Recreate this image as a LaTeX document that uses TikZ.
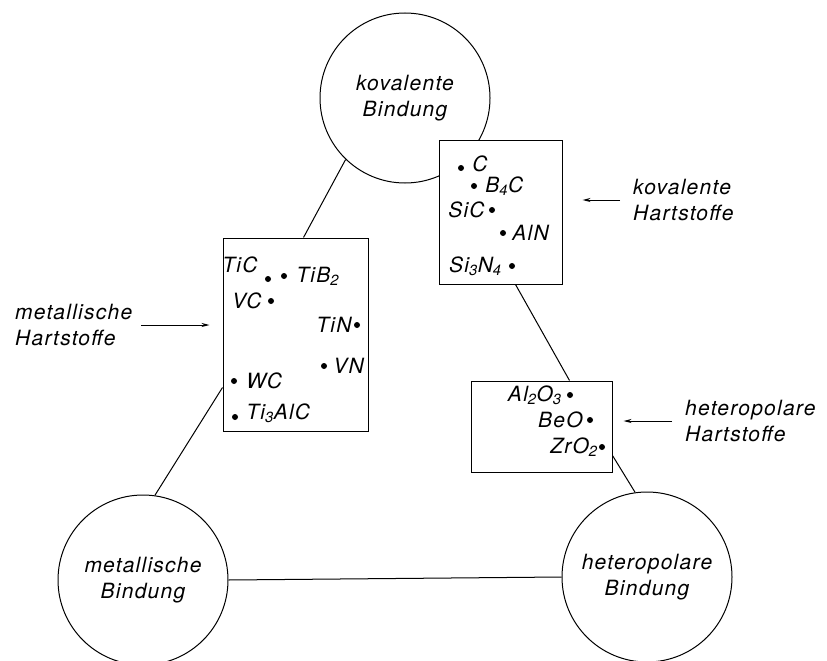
\documentclass[tikz,border=0pt]{standalone}
\usepackage{fontspec}
\setmainfont{TeX Gyre Heros}[LetterSpace=6]
\usetikzlibrary{arrows.meta,positioning}
\newcommand\labfont{\fontsize{21}{26}\selectfont\itshape}
\tikzset{
  >={Stealth[length=8pt,width=4pt]},
  bond/.style={
    draw, circle, line width=1pt, inner sep=0pt, minimum size=170pt,
    align=center, font=\labfont
  },
  group/.style={draw, rectangle, line width=1pt, fill=white, inner sep=0pt},
  dot/.style={circle, fill, inner sep=0pt, minimum size=6pt},
  elem/.style={inner sep=0pt, font=\labfont},
  note/.style={anchor=west, align=left, inner sep=0pt, font=\labfont},
  link/.style={line width=1pt},
  pointer/.style={->, line width=1pt},
}
\begin{document}
\begin{tikzpicture}[x=1pt, y=-1pt]
  \useasboundingbox (0,0) rectangle (827,661);
  % Bindungsarten
  \node[bond] (kovb) at (405,98) {kovalente\\Bindung};
  \node[bond] (metb) at (143,580) {metallische\\Bindung};
  \node[bond] (hetb) at (647,577) {heteropolare\\Bindung};
  % Hartstoffgruppen
  \node[group, minimum width=145pt, minimum height=193pt] (metbox) at (295.5,334.5) {};
  \node[group, minimum width=123pt, minimum height=144pt] (kovbox) at (500.5,212) {};
  \node[group, minimum width=141pt, minimum height=91pt] (hetbox) at (541.5,426.5) {};
  \draw[link] (kovb.226) -- ([xshift=8pt]metbox.north);
  \draw[link] ([yshift=44pt]metbox.south west) -- (metb.82);
  \draw[link] ([xshift=-47pt]kovbox.south east) -- ([xshift=28pt]hetbox.north);
  \draw[link] ([yshift=17pt]hetbox.south east) -- (hetb.98);
  \draw[link] (metb.east) -- (hetb.west);
  % metallische Hartstoffe
  \node[dot] (tic) at (268,279) {};
  \node[elem, above left=4pt and 8pt of tic] (tic-l) {TiC};
  \node[dot] (tib) at (284,276) {};
  \node[elem, right=9pt of tib] (tib-l) {TiB\textsubscript{2}};
  \node[dot] (vc) at (271,301) {};
  \node[elem, left=6pt of vc] (vc-l) {VC};
  \node[dot] (tin) at (357,325) {};
  \node[elem, left=2pt of tin] (tin-l) {TiN};
  \node[dot] (vn) at (324,366) {};
  \node[elem, right=6pt of vn] (vn-l) {VN};
  \node[dot] (wc) at (234,381) {};
  \node[elem, right=9pt of wc] (wc-l) {WC};
  \node[dot] (tialc) at (235,417) {};
  \node[elem, right=8pt of tialc, yshift=4pt] (tialc-l) {Ti\textsubscript{3}AlC};
  % kovalente Hartstoffe
  \node[dot] (c) at (461,168) {};
  \node[elem, right=8pt of c, yshift=4pt] (c-l) {C};
  \node[dot] (bc) at (474,186) {};
  \node[elem, right=8pt of bc] (bc-l) {B\textsubscript{4}C};
  \node[dot] (sic) at (492,210) {};
  \node[elem, left=4pt of sic] (sic-l) {SiC};
  \node[dot] (aln) at (503,233) {};
  \node[elem, right=6pt of aln] (aln-l) {AlN};
  \node[dot] (sin) at (512,266) {};
  \node[elem, left=7pt of sin] (sin-l) {Si\textsubscript{3}N\textsubscript{4}};
  % heteropolare Hartstoffe
  \node[dot] (alo) at (570,395) {};
  \node[elem, left=5pt of alo] (alo-l) {Al\textsubscript{2}O\textsubscript{3}};
  \node[dot] (beo) at (590,420) {};
  \node[elem, left=4pt of beo] (beo-l) {BeO};
  \node[dot] (zro) at (602,447) {};
  \node[elem, left=1pt of zro] (zro-l) {ZrO\textsubscript{2}};
  % Beschriftung
  \node[note] (methart) at (15,325) {metallische\\Hartstoffe};
  \node[note] (kovhart) at (633,200) {kovalente\\Hartstoffe};
  \node[note] (hethart) at (685,421) {heteropolare\\Hartstoffe};
  \draw[pointer] ([xshift=9pt]methart.east) -- ([xshift=-13pt]methart.east -| metbox.west);
  \draw[pointer] ([xshift=-13pt]kovhart.west) -- ([xshift=20pt]kovhart.west -| kovbox.east);
  \draw[pointer] ([xshift=-13pt]hethart.west) -- ([xshift=11pt]hethart.west -| hetbox.east);
\end{tikzpicture}
\end{document}
